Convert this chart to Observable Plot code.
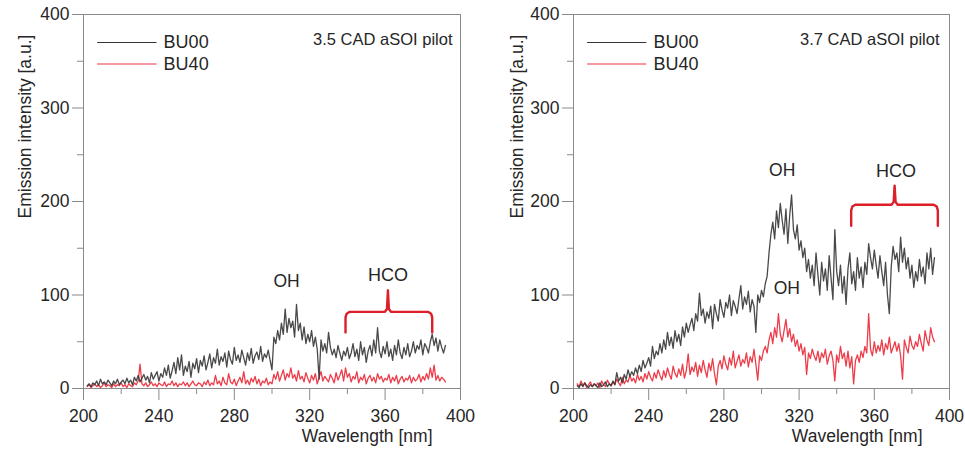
<!DOCTYPE html>
<html>
<head>
<meta charset="utf-8">
<script src="https://cdn.jsdelivr.net/npm/d3@7"></script>
<script src="https://cdn.jsdelivr.net/npm/@observablehq/plot@0.6"></script>
<style>
  html, body { margin: 0; padding: 0; background: #fff; }
  #wrap { position: relative; width: 965px; height: 452px; overflow: hidden; }
  .panel { position: absolute; top: 0; }
</style>
</head>
<body>
<div id="wrap">
  <div class="panel" id="p1" style="left:0px"></div>
  <div class="panel" id="p2" style="left:485px"></div>
</div>
<script>
// Wavelength grid [nm], 1 nm steps from 202 to 392
const wavelength = d3.range(202, 393);

// Panel titles
const panelTitles = ["3.5 CAD aSOI pilot", "3.7 CAD aSOI pilot"];
const seriesNames = ["BU00", "BU40"];

// 3.5 CAD aSOI pilot, BU00
const a35_BU00 = [
  3, 5, 2, 6, 4, 8, 3, 10, 5, 7,
  4, 9, 6, 3, 8, 5, 10, 4, 7, 9,
  5, 11, 6, 9, 4, 12, 8, 14, 7, 11,
  15, 9, 13, 6, 17, 10, 14, 18, 8, 16,
  12, 22, 14, 25, 11, 19, 28, 16, 33, 20,
  36, 14, 24, 18, 29, 12, 27, 21, 32, 17,
  30, 24, 35, 20, 28, 37, 22, 33, 27, 42,
  25, 34, 29, 38, 23, 40, 31, 26, 44, 30,
  36, 28, 41, 33, 25, 38, 30, 43, 27, 35,
  39, 31, 45, 29, 37, 33, 41, 30, 20, 55,
  48, 62, 52, 70, 58, 85, 60, 75, 65, 72,
  55, 90, 62, 70, 52, 66, 48, 58, 50, 62,
  45, 55, 42, 10, 52, 40, 48, 38, 60, 44,
  36, 42, 33, 46, 38, 30, 40, 35, 44, 32,
  38, 48, 34, 42, 30, 50, 36, 44, 28, 40,
  46, 35, 52, 38, 65, 40, 33, 45, 37, 50,
  34, 42, 30, 46, 36, 52, 38, 32, 44, 36,
  48, 34, 40, 50, 38, 46, 42, 52, 36, 48,
  44, 38, 50, 58, 46, 54, 40, 52, 44, 38,
  46
];

// 3.5 CAD aSOI pilot, BU40
const a35_BU40 = [
  2, 4, 1, 3, 5, 2, 4, 1, 3, 6,
  2, 4, 3, 1, 5, 2, 4, 3, 6, 2,
  4, 1, 5, 3, 2, 6, 4, 8, 26, 5,
  3, 6, 2, 4, 7, 3, 5, 2, 6, 4,
  3, 7, 2, 5, 4, 8, 3, 6, 2, 5,
  4, 7, 3, 6, 2, 5, 8, 4, 3, 6,
  5, 2, 7, 4, 9, 3, 6, 4, 14, 5,
  8, 3, 12, 6, 4, 16, 7, 5, 10, 3,
  8, 12, 6, 18, 5, 9, 4, 11, 7, 13,
  5, 10, 3, 8, 6, 11, 4, 7, 5, 15,
  10, 18, 8, 14, 20, 9, 16, 12, 22, 11,
  15, 8, 19, 10, 13, 7, 17, 11, 6, 14,
  9, 16, 5, 12, 18, 8, 13, 10, 7, 15,
  11, 6, 17, 9, 14, 20, 8, 22, 12, 16,
  7, 13, 10, 18, 6, 12, 9, 15, 5, 11,
  14, 8, 12, 6, 16, 10, 13, 7, 11, 9,
  15, 6, 12, 8, 14, 5, 10, 13, 7, 11,
  9, 14, 6, 12, 8, 10, 15, 7, 13, 9,
  16, 10, 22, 12, 25, 9, 14, 8, 12, 10,
  7
];

// 3.7 CAD aSOI pilot, BU00
const a37_BU00 = [
  3, 1, 5, 2, 6, 3, 1, 4, 2, 5,
  3, 1, 6, 2, 4, 7, 2, 5, 3, 8,
  4, 17, 8, 12, 6, 15, 10, 20, 13, 18,
  14, 22, 16, 25, 18, 30, 22, 27, 33, 24,
  45, 32, 40, 36, 48, 38, 52, 42, 60, 46,
  55, 43, 62, 50, 58, 46, 66, 55, 70, 60,
  68, 75, 62, 80, 72, 102, 78, 85, 70, 82,
  75, 88, 64, 90, 80, 72, 95, 84, 76, 92,
  86, 100, 78, 94, 88, 80, 96, 110, 85, 98,
  90, 104, 82, 95, 88, 60, 100, 92, 105, 98,
  112, 120, 145, 165, 178, 160, 190, 172, 198, 180,
  165, 192, 155, 185, 207, 170, 160, 175, 148, 158,
  140, 150, 125, 138, 118, 132, 110, 145, 122, 100,
  135, 115, 128, 105, 142, 118, 95, 170, 125, 110,
  132, 102, 120, 90, 128, 145, 112, 125, 105, 140,
  118, 130, 108, 135, 122, 155, 140, 128, 148, 132,
  118, 142, 125, 110, 135, 100, 80, 130, 152, 138,
  145, 125, 162, 135, 150, 128, 140, 118, 132, 108,
  125, 115, 138, 120, 130, 112, 145, 128, 150, 122,
  140
];

// 3.7 CAD aSOI pilot, BU40
const a37_BU40 = [
  5, 2, 8, 3, 6, 1, 4, 7, 2, 5,
  3, 6, 1, 8, 4, 2, 9, 5, 3, 7,
  4, 10, 6, 3, 12, 5, 9, 7, 14, 8,
  11, 6, 15, 9, 13, 7, 16, 10, 18, 12,
  8, 17, 11, 20, 14, 9, 19, 12, 22, 15,
  10, 24, 16, 12, 21, 14, 26, 11, 19, 37,
  15, 23, 18, 28, 13, 25, 17, 30, 20, 12,
  27, 19, 32, 16, 4, 24, 30, 21, 35, 26,
  20, 33, 25, 40, 22, 29, 36, 24, 31, 27,
  38, 23, 34, 28, 42, 26, 9, 35, 30, 40,
  45, 38, 52, 60, 48, 65, 55, 80, 58, 50,
  62, 74, 55, 64, 50, 58, 45, 52, 40, 48,
  36, 44, 15, 38, 32, 42, 35, 30, 40, 28,
  38, 33, 42, 26, 35, 40, 30, 8, 36, 28,
  45, 32, 38, 24, 40, 22, 34, 5, 30, 36,
  28, 40, 33, 45, 38, 80, 42, 35, 50, 38,
  46, 40, 52, 36, 48, 42, 55, 38, 44, 50,
  40, 48, 35, 10, 52, 44, 38, 56, 46, 42,
  50, 45, 58, 48, 40, 62, 52, 46, 65, 55,
  50
];

// Tick labels
const xMajorTicks = [200, 240, 280, 320, 360, 400];
const xMinorTicks = [220, 260, 300, 340, 380];
const yMajorTicks = [0, 100, 200, 300, 400];
const yMinorTicks = [50, 150, 250, 350];

// Annotations: OH label(s) and HCO bracket per panel [wavelength, intensity]
const ohLabels35 = [[307.7, 115]];
const ohLabels37 = [[311, 233], [313.5, 107]];
const hco35 = {label: [361.5, 121], left: 339, right: 385, mid: 361.5, level: 82, end: 60, peak: 105};
const hco37 = {label: [371.5, 232], left: 347.7, right: 393.8, mid: 370.8, level: 196.6, end: 174, peak: 217};

// ---------------- styling ----------------
const COL_BU00 = "#353535";
const COL_BU40 = "#ec3340";
const COL_BRACE = "#dc1f28";
const COL_AXIS = "#8a8a8a";
const COL_TEXT = "#262626";
const FONT = "'Liberation Sans', Arial, Helvetica, sans-serif";

function bracePath(b) {
  const {left: x0, right: x1, mid: xc, level: yh, end: ye, peak: yp} = b;
  return [
    [x0, ye], [x0, yh - 6], [x0 + 0.6, yh - 2], [x0 + 2.2, yh],
    [xc - 1.6, yh], [xc - 0.5, yh + 3], [xc, yp],
    [xc + 0.5, yh + 3], [xc + 1.6, yh],
    [x1 - 2.2, yh], [x1 - 0.6, yh - 2], [x1, yh - 6], [x1, ye]
  ].map(([x, y]) => ({x, y}));
}

function panel({title, bu00, bu40, ohs, hco, marginLeft, marginRight, ylabelDx, xlabelDx, titleDx}) {
  const rows0 = wavelength.map((w, i) => ({w, v: bu00[i]}));
  const rows4 = wavelength.map((w, i) => ({w, v: bu40[i]}));
  const legend = seriesNames.map((name, i) => ({name, color: i === 0 ? COL_BU00 : COL_BU40, y: 370 - i * 23}));
  return Plot.plot({
    width: 480,
    height: 452,
    marginLeft,
    marginRight,
    marginTop: 14,
    marginBottom: 64,
    x: {domain: [200, 400]},
    y: {domain: [0, 400]},
    style: {fontFamily: FONT, fontSize: "17px", color: COL_TEXT, background: "white", overflow: "visible"},
    marks: [
      Plot.frame({stroke: COL_AXIS, strokeWidth: 1}),
      Plot.axisY({ticks: yMajorTicks, tickSize: 11, tickPadding: 3, label: null, stroke: COL_AXIS, fill: COL_TEXT, fontSize: 17.5}),
      Plot.axisY({ticks: yMinorTicks, tickSize: 6, text: null, label: null, stroke: COL_AXIS}),
      Plot.axisX({ticks: xMajorTicks, tickSize: 12, tickPadding: 9, label: null, stroke: COL_AXIS, fill: COL_TEXT, fontSize: 17.5}),
      Plot.axisX({ticks: xMinorTicks, tickSize: 6, text: null, label: null, stroke: COL_AXIS}),
      Plot.text(["Emission intensity [a.u.]"], {frameAnchor: "top-left", dx: ylabelDx, dy: 112, rotate: -90, textAnchor: "middle", fontSize: 17.5, fill: COL_TEXT}),
      Plot.text(["Wavelength [nm]"], {frameAnchor: "bottom-right", dx: xlabelDx, dy: 53, textAnchor: "end", fontSize: 17.5, fill: COL_TEXT}),
      Plot.text([title], {frameAnchor: "top-right", dx: titleDx, dy: 19, textAnchor: "end", fontSize: 16.5, fill: COL_TEXT}),
      Plot.line(rows4, {x: "w", y: "v", stroke: COL_BU40, strokeWidth: 1.3, strokeOpacity: 0.95}),
      Plot.line(rows0, {x: "w", y: "v", stroke: COL_BU00, strokeWidth: 1.3, strokeOpacity: 0.9}),
      Plot.line(bracePath(hco), {x: "x", y: "y", stroke: COL_BRACE, strokeWidth: 2.4, strokeLinejoin: "round", strokeLinecap: "round"}),
      Plot.text(ohs, {x: d => d[0], y: d => d[1], text: () => "OH", fontSize: 17.5, fill: COL_TEXT}),
      Plot.text([hco.label], {x: d => d[0], y: d => d[1], text: () => "HCO", fontSize: 18, fill: COL_TEXT}),
      Plot.ruleY(legend, {y: "y", x1: 207.5, x2: 239, stroke: "color", strokeWidth: 1.1}),
      Plot.text(legend, {x: 242.5, y: "y", text: "name", textAnchor: "start", fontSize: 18, fill: COL_TEXT})
    ]
  });
}

document.getElementById("p1").append(panel({
  title: panelTitles[0], bu00: a35_BU00, bu40: a35_BU40, ohs: ohLabels35, hco: hco35,
  marginLeft: 83, marginRight: 20, ylabelDx: -65, xlabelDx: -28, titleDx: -8
}));
document.getElementById("p2").append(panel({
  title: panelTitles[1], bu00: a37_BU00, bu40: a37_BU40, ohs: ohLabels37, hco: hco37,
  marginLeft: 88, marginRight: 16, ylabelDx: -63, xlabelDx: -27, titleDx: -10
}));
</script>
</body>
</html>
